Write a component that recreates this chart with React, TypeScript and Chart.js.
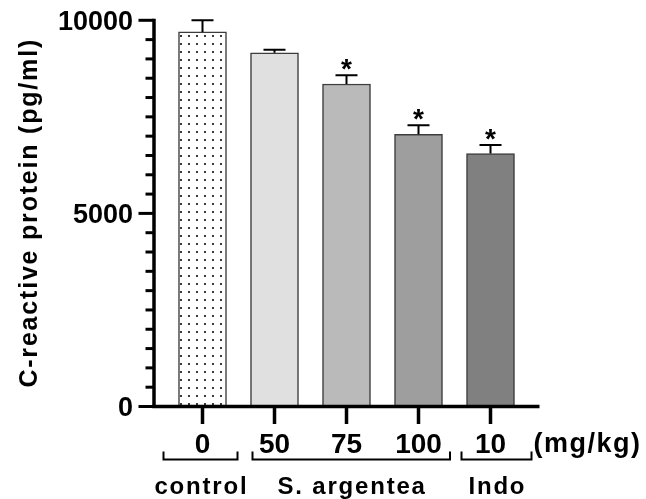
import React, { useEffect, useRef } from 'react';
import { Chart, registerables } from 'chart.js';

Chart.register(...registerables);

// ---- data ----
const doses = ['0', '50', '75', '100', '10'];
const crpMeans = [9700, 9160, 8350, 7050, 6550];
const crpSem = [300, 80, 230, 230, 220];
const significant = [false, false, true, true, true];
const yMajorTicks = [0, 5000, 10000];
const yTickLabels = ['0', '5000', '10000'];
const yMinorStep = 500;
const yMax = 10000;
const groupNames = ['control', 'S. argentea', 'Indo'];
const groupFirst = [0, 1, 4];
const groupLast = [0, 3, 4];
const unitLabel = '(mg/kg)';
const yTitle = 'C-reactive protein (pg/ml)';

// ---- styles ----
const barFills = ['dots', '#dfe0df', '#b9bab9', '#9d9e9d', '#808080'];
const bracketLeftPad = [39, 22, 29];
const bracketRightPad = [35, 31.5, 41];
const FONT = '"Liberation Sans", Arial, Helvetica, sans-serif';

function makeDots(): CanvasPattern | string {
  const tile = document.createElement('canvas');
  tile.width = 8;
  tile.height = 8;
  const c = tile.getContext('2d');
  if (!c) return '#ffffff';
  c.fillStyle = '#ffffff';
  c.fillRect(0, 0, 8, 8);
  c.fillStyle = '#3a3a3a';
  c.fillRect(4, 3, 2, 2);
  const p = c.createPattern(tile, 'repeat');
  return p || '#ffffff';
}

function centeredGlyph(ctx: CanvasRenderingContext2D, text: string, cx: number, cy: number) {
  const m = ctx.measureText(text);
  const x = cx - (m.actualBoundingBoxRight - m.actualBoundingBoxLeft) / 2;
  const y = cy + (m.actualBoundingBoxAscent - m.actualBoundingBoxDescent) / 2;
  ctx.textAlign = 'left';
  ctx.textBaseline = 'alphabetic';
  ctx.fillText(text, x, y);
}

const prismPlugin = {
  id: 'prismDecor',
  afterDatasetsDraw(chart: any) {
    const ctx: CanvasRenderingContext2D = chart.ctx;
    const xs = chart.scales.x;
    const ys = chart.scales.y;
    ctx.save();
    ctx.strokeStyle = '#000';
    ctx.fillStyle = '#000';
    ctx.lineCap = 'butt';
    // error bars + stars
    crpMeans.forEach((m, i) => {
      const cx = xs.getPixelForValue(i);
      const yTop = ys.getPixelForValue(m);
      const yErr = ys.getPixelForValue(m + crpSem[i]);
      ctx.lineWidth = 2;
      ctx.beginPath();
      ctx.moveTo(cx, yTop);
      ctx.lineTo(cx, yErr);
      ctx.moveTo(cx - 11, yErr);
      ctx.lineTo(cx + 11, yErr);
      ctx.stroke();
      if (significant[i]) {
        ctx.font = `bold 28px ${FONT}`;
        centeredGlyph(ctx, '*', cx, yErr - 11);
      }
    });
    ctx.restore();
  },
  afterDraw(chart: any) {
    const ctx: CanvasRenderingContext2D = chart.ctx;
    const xs = chart.scales.x;
    const ys = chart.scales.y;
    const area = chart.chartArea;
    const axisX = area.left - 12.5;
    const y0 = ys.getPixelForValue(0);
    const yTopPx = ys.getPixelForValue(yMax);
    ctx.save();
    ctx.strokeStyle = '#000';
    ctx.fillStyle = '#000';
    ctx.lineCap = 'butt';

    // y axis line
    ctx.lineWidth = 3.5;
    ctx.beginPath();
    ctx.moveTo(axisX, yTopPx - 1.5);
    ctx.lineTo(axisX, y0 + 1.5);
    ctx.stroke();
    // y ticks
    ctx.lineWidth = 3;
    for (let v = 0; v <= yMax; v += yMinorStep) {
      const py = ys.getPixelForValue(v);
      const major = yMajorTicks.indexOf(v) >= 0;
      ctx.beginPath();
      ctx.moveTo(axisX - (major ? 15.5 : 8.5), py);
      ctx.lineTo(axisX, py);
      ctx.stroke();
    }
    // y tick labels
    ctx.font = `bold 27px ${FONT}`;
    ctx.textAlign = 'right';
    ctx.textBaseline = 'alphabetic';
    const digitH = ctx.measureText('0').actualBoundingBoxAscent;
    yMajorTicks.forEach((v, i) => {
      const py = ys.getPixelForValue(v);
      ctx.fillText(yTickLabels[i], axisX - 21, py + digitH / 2);
    });

    // x axis line
    ctx.lineWidth = 3.5;
    ctx.beginPath();
    ctx.moveTo(axisX - 1.75, y0);
    ctx.lineTo(area.right + 13, y0);
    ctx.stroke();
    // x ticks and labels
    ctx.font = `bold 28px ${FONT}`;
    ctx.textAlign = 'center';
    doses.forEach((d, i) => {
      const cx = xs.getPixelForValue(i);
      ctx.lineWidth = 3.5;
      ctx.beginPath();
      ctx.moveTo(cx, y0);
      ctx.lineTo(cx, y0 + 17.5);
      ctx.stroke();
      ctx.fillText(d, cx, y0 + 46);
    });
    // unit label
    ctx.font = `bold 27px ${FONT}`;
    ctx.textAlign = 'left';
    (ctx as any).letterSpacing = '1.5px';
    ctx.fillText(unitLabel, area.right + 7, y0 + 45);
    (ctx as any).letterSpacing = '0px';

    // group brackets
    const brY = y0 + 53;
    ctx.lineWidth = 2;
    ctx.font = `bold 24px ${FONT}`;
    groupNames.forEach((g, k) => {
      const left = xs.getPixelForValue(groupFirst[k]) - bracketLeftPad[k];
      const right = xs.getPixelForValue(groupLast[k]) + bracketRightPad[k];
      ctx.beginPath();
      ctx.moveTo(left, brY - 8);
      ctx.lineTo(left, brY);
      ctx.lineTo(right, brY);
      ctx.lineTo(right, brY - 8);
      ctx.stroke();
      (ctx as any).letterSpacing = '1.8px';
      ctx.textAlign = 'center';
      ctx.fillText(g, (left + right) / 2 + 0.9, y0 + 87.5);
      (ctx as any).letterSpacing = '0px';
    });

    // y title
    ctx.save();
    ctx.translate(36.7, (yTopPx + y0) / 2 + 0.3);
    ctx.rotate(-Math.PI / 2);
    ctx.font = `bold 25px ${FONT}`;
    (ctx as any).letterSpacing = '1.8px';
    ctx.textAlign = 'center';
    ctx.textBaseline = 'alphabetic';
    ctx.fillText(yTitle, 0.9, 0);
    ctx.restore();

    ctx.restore();
  },
};

export default function App() {
  const canvasRef = useRef<HTMLCanvasElement | null>(null);

  useEffect(() => {
    const canvas = canvasRef.current;
    if (!canvas) return;
    const dots = makeDots();
    const chart = new Chart(canvas, {
      type: 'bar',
      data: {
        labels: doses,
        datasets: [
          {
            data: crpMeans,
            backgroundColor: barFills.map((f) => (f === 'dots' ? dots : f)) as any,
            borderColor: '#3c3c3c',
            borderWidth: 1.5,
            barThickness: 48,
          },
        ],
      },
      options: {
        responsive: false,
        animation: false,
        events: [],
        layout: { padding: { left: 166.5, right: 119.5, top: 20.3, bottom: 92.5 } },
        plugins: { legend: { display: false }, tooltip: { enabled: false }, title: { display: false } },
        scales: {
          x: { type: 'category', display: false, offset: true },
          y: { type: 'linear', display: false, min: 0, max: yMax },
        },
      },
      plugins: [prismPlugin],
    });
    return () => chart.destroy();
  }, []);

  return (
    <div style={{ position: 'fixed', left: 0, top: 0, width: 646, height: 499, background: '#fff' }}>
      <canvas ref={canvasRef} width={646} height={499} style={{ display: 'block' }} />
    </div>
  );
}
